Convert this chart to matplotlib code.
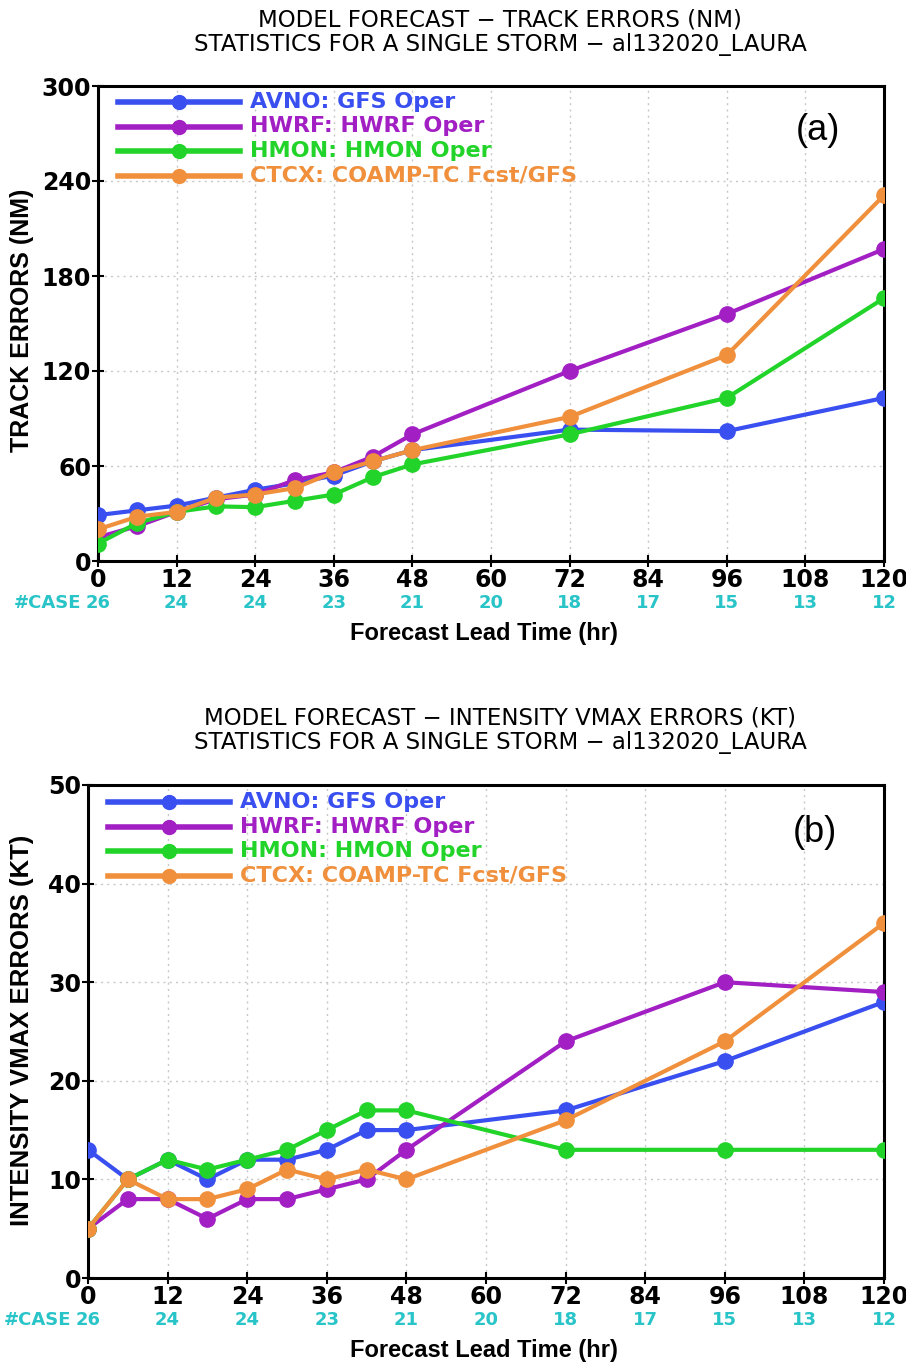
import matplotlib
matplotlib.use("Agg")
from matplotlib import pyplot as plt

lead_time = [0, 6, 12, 18, 24, 30, 36, 42, 48, 72, 96, 120]
xticks = [0, 12, 24, 36, 48, 60, 72, 84, 96, 108, 120]
case_counts = [26, 24, 24, 23, 21, 20, 18, 17, 15, 13, 12]

models = ["AVNO: GFS Oper", "HWRF: HWRF Oper", "HMON: HMON Oper", "CTCX: COAMP-TC Fcst/GFS"]
colors = ["#3a4ff0", "#a21fc4", "#22d42a", "#f0903c"]

# track errors (nm)
track_avno = [29, 32, 35, 40, 45, 49, 54, 63, 70, 83, 82, 103]
track_hwrf = [15, 22, 31, 39, 42, 51, 56, 66, 80, 120, 156, 197]
track_hmon = [11, 24, 31, 34.5, 34, 38, 42, 53, 61, 80, 103, 166]
track_ctcx = [20, 28, 31, 40, 42, 46, 56, 63, 70, 91, 130, 231]

# intensity vmax errors (kt)
vmax_avno = [13, 10, 12, 10, 12, 12, 13, 15, 15, 17, 22, 28]
vmax_hwrf = [5, 8, 8, 6, 8, 8, 9, 10, 13, 24, 30, 29]
vmax_hmon = [5, 10, 12, 11, 12, 13, 15, 17, 17, 13, 13, 13]
vmax_ctcx = [5, 10, 8, 8, 9, 11, 10, 11, 10, 16, 24, 36]

grads = "DejaVu Sans"
arial = "Liberation Sans"
case_color = "#28c4c8"

W, H = 906, 1363
fig = plt.figure(figsize=(W / 100, H / 100), dpi=100)


def px(x, y):
    return x / W, 1 - y / H


def panel(rect, series, ymax, ystep, titles, ylabel, tag, title_y, ylabel_y, xlabel_y,
          leg_y, leg_x, tag_xy, ylabel_size):
    ax = fig.add_axes(rect)
    for vals, c in zip(series, colors):
        ax.plot(lead_time, vals, color=c, lw=3, marker="o", ms=11, zorder=3)
    ax.set_xlim(0, 120)
    ax.set_ylim(0, ymax)
    ax.set_xticks(xticks)
    ax.set_yticks(range(0, ymax + 1, ystep))
    ax.set_xticklabels([str(t) for t in xticks], fontfamily=grads, fontweight="bold", fontsize=17)
    ax.set_yticklabels([str(v) for v in range(0, ymax + 1, ystep)], fontfamily=grads,
                       fontweight="bold", fontsize=17)
    ax.tick_params(direction="inout", length=8, width=1.5, pad=1)
    for s in ax.spines.values():
        s.set_linewidth(2.2)
    for t in xticks[1:-1]:
        ax.axvline(t, color="#c8c8c8", lw=1, ls=(0, (1.5, 3)), zorder=1)
    for v in range(ystep, ymax, ystep):
        ax.axhline(v, color="#c8c8c8", lw=1, ls=(0, (1.5, 3)), zorder=1)

    # number of cases under each tick
    for t, n in zip(xticks, case_counts):
        ax.annotate(str(n), xy=(t, 0), xycoords=("data", "axes fraction"), xytext=(0, -24),
                    textcoords="offset points", ha="center", va="top", color=case_color,
                    fontfamily=grads, fontweight="bold", fontsize=13)
    ax.annotate("#CASE", xy=(0, 0), xycoords=("data", "axes fraction"), xytext=(-12, -24),
                textcoords="offset points", ha="right", va="top", color=case_color,
                fontfamily=grads, fontweight="bold", fontsize=13)

    # legend
    for i, (name, c) in enumerate(zip(models, colors)):
        ly = leg_y + i * 24.5
        x0, y0 = px(leg_x, ly)
        x1, _ = px(leg_x + 122, ly)
        fig.add_artist(plt.Line2D([x0, x1], [y0, y0], color=c, lw=4, transform=fig.transFigure))
        fig.add_artist(plt.Line2D([(x0 + x1) / 2], [y0], color=c, marker="o", ms=10,
                                  transform=fig.transFigure))
        fig.text(*px(leg_x + 132, ly), name, color=c, fontfamily=grads, fontweight="bold",
                 fontsize=16, va="center", ha="left")

    fig.text(*px(tag_xy[0], tag_xy[1]), tag, fontfamily=arial, fontsize=26, ha="center", va="center")
    fig.text(*px(500, title_y), titles[0], fontfamily=grads, fontsize=16.5, ha="center", va="center")
    fig.text(*px(500, title_y + 25), titles[1], fontfamily=grads, fontsize=16.5, ha="center",
             va="center")
    fig.text(*px(22, ylabel_y), ylabel, fontfamily=arial, fontweight="bold", fontsize=ylabel_size,
             rotation=90, ha="center", va="center")
    fig.text(*px(484, xlabel_y), "Forecast Lead Time (hr)", fontfamily=arial,
             fontweight="bold", fontsize=17, ha="center", va="center")
    return ax


panel([98 / W, 1 - 561 / H, 786 / W, 475 / H],
      [track_avno, track_hwrf, track_hmon, track_ctcx], 300, 60,
      ["MODEL FORECAST \u2212 TRACK ERRORS (NM)",
       "STATISTICS FOR A SINGLE STORM \u2212 al132020_LAURA"],
      "TRACK ERRORS (NM)", "(a)", 20, 320, 634, 102, 118, (818, 130), 18)

panel([88 / W, 1 - 1278 / H, 796 / W, 493 / H],
      [vmax_avno, vmax_hwrf, vmax_hmon, vmax_ctcx], 50, 10,
      ["MODEL FORECAST \u2212 INTENSITY VMAX ERRORS (KT)",
       "STATISTICS FOR A SINGLE STORM \u2212 al132020_LAURA"],
      "INTENSITY VMAX ERRORS (KT)", "(b)", 718, 1030, 1350, 802, 108, (815, 832), 18.5)

fig.savefig("out.png", dpi=100)
